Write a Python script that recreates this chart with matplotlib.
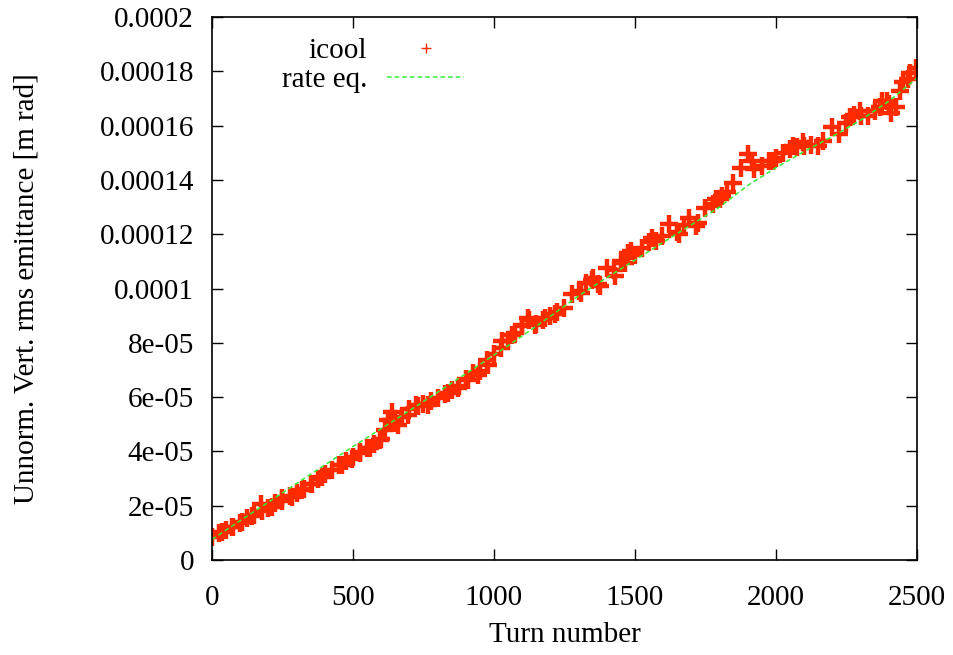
import numpy as np
import matplotlib
matplotlib.use('Agg')
import matplotlib.pyplot as plt

plt.rcParams['font.family'] = ['Liberation Serif', 'DejaVu Serif']

# icool 模拟结果 (单位 1e-6 m rad)
icool_turn = [0, 25, 35, 50, 71, 75, 100, 106, 125, 142, 150, 175, 177, 200,
              212, 225, 248, 250, 275, 283, 300, 319, 325, 350, 354, 375, 390,
              400, 425, 450, 460, 475, 496, 500, 524, 525, 550, 560, 575, 595,
              600, 615, 625, 636, 640, 650, 660, 675, 695, 700, 725, 731, 750,
              766, 775, 800, 825, 837, 850, 873, 875, 900, 908, 925, 944, 950,
              975, 979, 1000, 1025, 1029, 1050, 1063, 1075, 1098, 1100, 1121,
              1125, 1145, 1150, 1175, 1180, 1200, 1216, 1225, 1250, 1275, 1300,
              1310, 1325, 1346, 1350, 1369, 1375, 1399, 1425, 1428, 1450, 1464,
              1475, 1487, 1500, 1525, 1550, 1562, 1575, 1597, 1621, 1650, 1656,
              1675, 1692, 1716, 1725, 1750, 1775, 1787, 1800, 1810, 1825, 1846,
              1875, 1899, 1915, 1923, 1950, 1975, 1988, 2000, 2025, 2050, 2061,
              2075, 2097, 2100, 2125, 2150, 2167, 2200, 2225, 2250, 2262, 2275,
              2297, 2300, 2325, 2350, 2368, 2375, 2392, 2400, 2409, 2425, 2439,
              2450, 2468, 2475, 2498]
icool_emit = [8.5, 9.8, 10.4, 11.0, 12.1, 12.3, 13.8, 14.1, 15.3, 16.2, 16.6,
              20.6, 18.1, 19.3, 19.7, 21.0, 21.9, 22.7, 23.7, 23.1, 24.7, 25.8,
              26.3, 28.0, 27.9, 29.7, 30.5, 31.7, 33.0, 35.0, 35.1, 36.5, 37.2,
              38.0, 39.4, 39.7, 41.3, 41.2, 42.8, 44.3, 44.5, 48.0, 51.5, 51.7,
              54.4, 50.5, 49.8, 52.5, 53.5, 55.5, 57.0, 56.6, 57.5, 57.2, 58.4,
              59.8, 61.2, 61.5, 62.8, 63.4, 64.2, 66.5, 66.4, 69.0, 68.3, 69.5,
              73.8, 72.0, 75.8, 78.0, 80.6, 80.5, 83.0, 83.5, 86.1, 86.5, 89.2,
              88.5, 86.7, 87.0, 88.5, 89.2, 90.0, 90.8, 91.5, 93.0, 98.0, 99.0,
              98.4, 102.0, 103.3, 104.0, 101.5, 101.0, 107.6, 107.0, 104.5,
              110.0, 109.5, 113.0, 113.8, 112.5, 115.0, 117.0, 118.7, 117.5,
              119.3, 123.6, 121.0, 119.9, 123.5, 126.1, 123.0, 124.0, 129.5,
              131.0, 132.8, 133.0, 134.1, 135.5, 139.0, 144.3, 149.4, 147.0,
              143.9, 145.0, 147.0, 147.0, 148.0, 150.0, 151.5, 152.5, 152.0,
              153.8, 152.5, 153.0, 152.5, 154.4, 159.5, 157.0, 161.0, 163.0,
              164.0, 165.4, 163.5, 163.5, 165.5, 166.7, 169.0, 169.1, 168.0,
              164.8, 167.0, 172.8, 176.0, 177.1, 179.5, 181.4]

# 速率方程结果
rate_turn = [0, 100, 200, 300, 400, 500, 600, 700, 800, 900, 1000, 1100, 1200,
             1300, 1400, 1500, 1600, 1700, 1800, 1900, 2000, 2100, 2200, 2300,
             2400, 2500]
rate_emit = [7.6, 14.5, 21.3, 28.2, 35.0, 41.8, 48.4, 55.0, 61.8, 68.6, 75.5,
             82.5, 89.8, 97.3, 104.0, 110.5, 117.0, 123.5, 130.0, 138.0, 144.5,
             150.5, 156.0, 162.0, 169.0, 177.5]

y_ticks = [0, 2e-5, 4e-5, 6e-5, 8e-5, 1e-4, 1.2e-4, 1.4e-4, 1.6e-4, 1.8e-4, 2e-4]
y_tick_labels = ['0', '2e-05', '4e-05', '6e-05', '8e-05', '0.0001', '0.00012',
                 '0.00014', '0.00016', '0.00018', '0.0002']
x_ticks = [0, 500, 1000, 1500, 2000, 2500]

fig = plt.figure(figsize=(9.54, 6.55), dpi=100)
ax = fig.add_axes([0.2222, 0.145, 0.7390, 0.829])

ax.plot(icool_turn, np.array(icool_emit) * 1e-6, linestyle='none', marker='+',
        markersize=13, markeredgewidth=3.2, color='#ff2a00', label='icool')
ax.plot(rate_turn, np.array(rate_emit) * 1e-6, linestyle=(0, (3, 2)),
        linewidth=1.1, color='#33ee33', label='rate eq.')

ax.set_xlim(0, 2500)
ax.set_ylim(0, 2e-4)
ax.set_xticks(x_ticks)
ax.set_xticklabels([str(t) for t in x_ticks])
ax.set_yticks(y_ticks)
ax.set_yticklabels(y_tick_labels)
ax.tick_params(direction='in', top=True, right=True, length=8, width=1,
               labelsize=21)
ax.tick_params(axis='y', pad=13)
ax.tick_params(axis='x', pad=18)
for s in ax.spines.values():
    s.set_linewidth(1.2)

ax.set_xlabel('Turn number', fontsize=21, labelpad=8)
ax.set_ylabel('Unnorm. Vert. rms emittance [m rad]', fontsize=21, labelpad=43)

leg = ax.legend(loc='upper right', bbox_to_anchor=(0.387, 1.0), frameon=False,
                markerfirst=False, fontsize=21, handlelength=2.64,
                handletextpad=0.7, labelspacing=0.1, borderaxespad=0.3)
leg.legend_handles[0].set_markersize(7)
leg.legend_handles[0].set_markeredgewidth(1.0)

fig.savefig('out.png', dpi=100)
